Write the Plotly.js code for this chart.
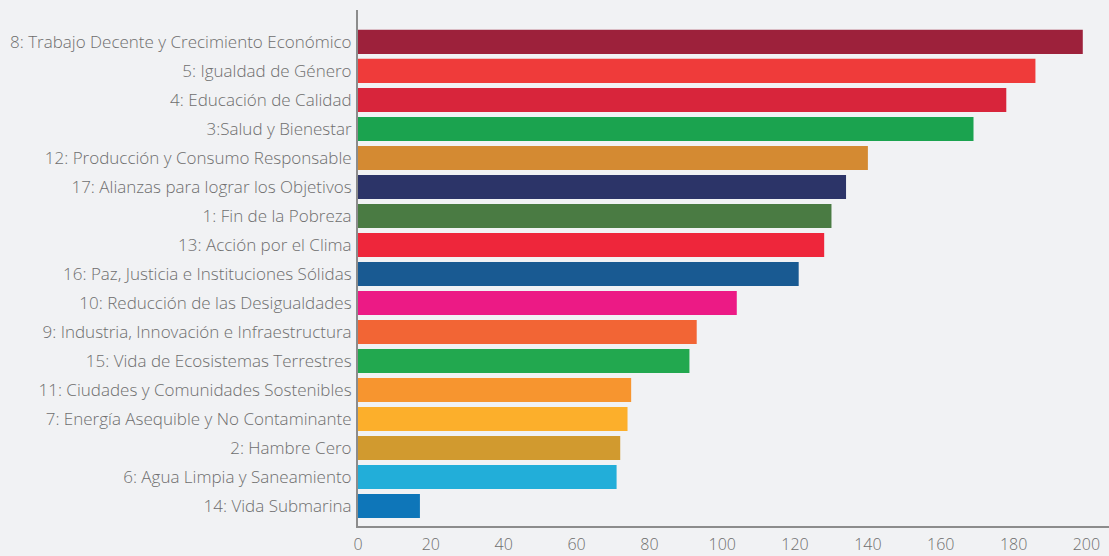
<!DOCTYPE html>
<html>
<head>
<meta charset="utf-8">
<script src="https://cdn.plot.ly/plotly-3.0.1.min.js"></script>
<style>
html,body{margin:0;padding:0;background:#f1f2f4;}
#chart{width:1109px;height:556px;}
</style>
</head>
<body>
<div id="chart"></div>
<script>
// Categories from bottom to top
const categories = [
  "14: Vida Submarina",
  "6: Agua Limpia y Saneamiento",
  "2: Hambre Cero",
  "7: Energía Asequible y No Contaminante",
  "11: Ciudades y Comunidades Sostenibles",
  "15: Vida de Ecosistemas Terrestres",
  "9: Industria, Innovación e Infraestructura",
  "10: Reducción de las Desigualdades",
  "16: Paz, Justicia e Instituciones Sólidas",
  "13: Acción por el Clima",
  "1: Fin de la Pobreza",
  "17: Alianzas para lograr los Objetivos",
  "12: Producción y Consumo Responsable",
  "3:Salud y Bienestar",
  "4: Educación de Calidad",
  "5: Igualdad de Género",
  "8: Trabajo Decente y Crecimiento Económico"
];
const values = [17, 71, 72, 74, 75, 91, 93, 104, 121, 128, 130, 134, 140, 169, 178, 186, 199];
const barColors = [
  "#0e76b9", "#22aed9", "#d19a2f", "#fcaf2b", "#f7952f", "#22a84f",
  "#f26535", "#ec1a85", "#195a92", "#ee263b", "#4a7b43", "#2c3468",
  "#d48a32", "#1ba34f", "#d8253b", "#ef3b3a", "#9d213b"
];
const xTickVals = [0, 20, 40, 60, 80, 100, 120, 140, 160, 180, 200];

const trace = {
  type: "bar",
  orientation: "h",
  x: values,
  y: categories,
  marker: {color: barColors},
  hoverinfo: "x+y"
};

const fontFamily = "'Open Sans', Lato, sans-serif";

const layout = {
  width: 1109,
  height: 556,
  margin: {l: 358, r: 0, t: 10, b: 30},
  paper_bgcolor: "#f1f2f4",
  plot_bgcolor: "#f1f2f4",
  bargap: 0.17,
  showlegend: false,
  font: {family: fontFamily, size: 16, color: "#6e6e6e", weight: 300},
  xaxis: {
    range: [0, 206.2],
    tickvals: xTickVals,
    ticktext: xTickVals.map(String),
    showgrid: false,
    zeroline: false,
    showline: true,
    linecolor: "#8c8c8c",
    linewidth: 2,
    ticks: "",
    ticklabelstandoff: 3,
    tickfont: {family: fontFamily, size: 16, color: "#6e6e6e", weight: 300},
    fixedrange: true
  },
  yaxis: {
    type: "category",
    range: [-0.69, 17.1],
    showgrid: false,
    zeroline: false,
    showline: true,
    linecolor: "#8c8c8c",
    linewidth: 2,
    ticks: "",
    ticklabelstandoff: 1,
    tickfont: {family: fontFamily, size: 17, color: "#6e6e6e", weight: 300},
    fixedrange: true
  }
};

Plotly.newPlot("chart", [trace], layout, {displayModeBar: false, staticPlot: true});
</script>
</body>
</html>
